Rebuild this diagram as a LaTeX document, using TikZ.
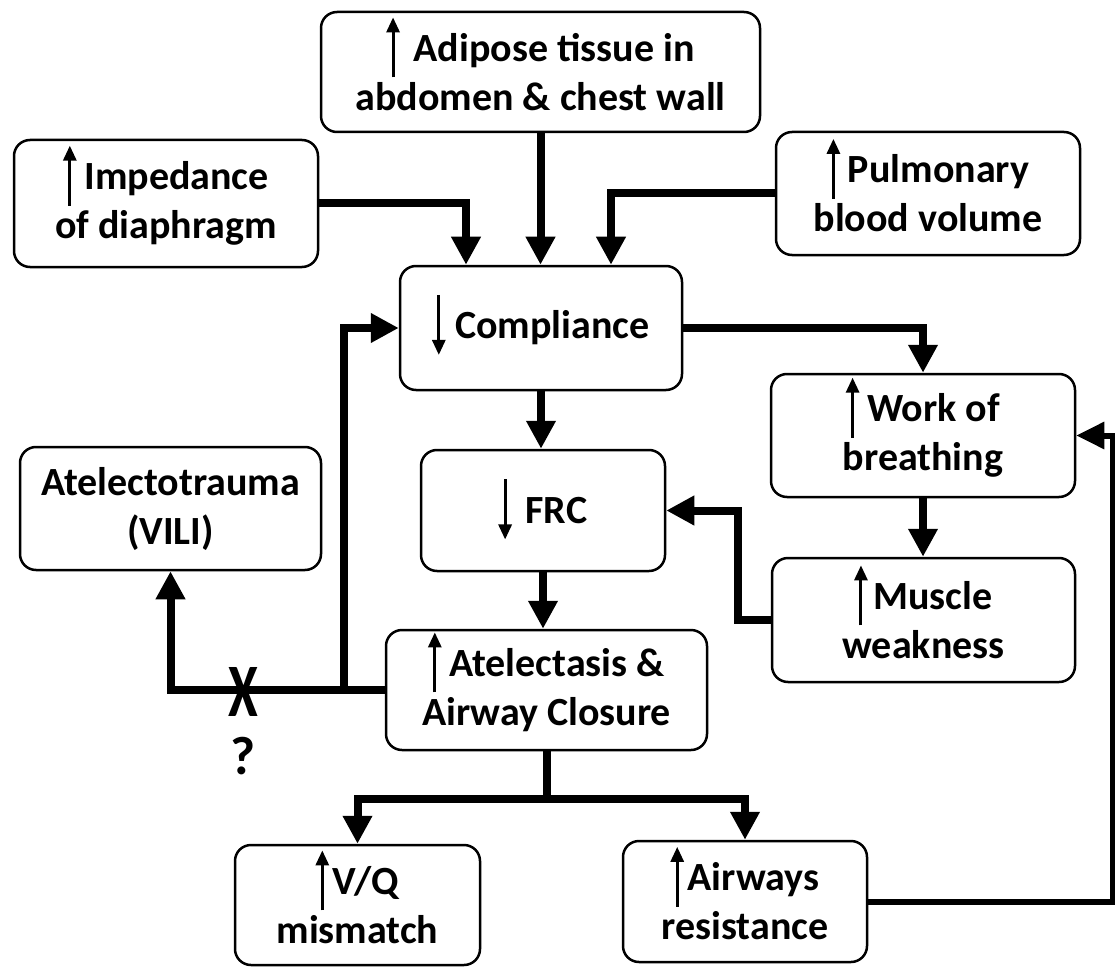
\documentclass[tikz,border=0pt]{standalone}
\usepackage{fontspec}
\setmainfont{Carlito}
\usetikzlibrary{arrows.meta,calc}
\newcommand{\uparr}{\smash{\tikz[baseline=0pt]\draw[line width=3pt,-{Triangle[length=15pt,width=13pt]}] (0pt,-16pt) -- (0pt,44pt);}}
\newcommand{\dnarr}{\smash{\tikz[baseline=0pt]\draw[line width=3pt,-{Triangle[length=15pt,width=13pt]}] (0pt,44pt) -- (0pt,-16pt);}}
\begin{document}
\begin{tikzpicture}[x=1pt,y=-1pt,
  box/.style={draw, line width=2.5pt, rounded corners=16pt, inner sep=0pt, align=center,
    font=\fontsize{40}{49}\selectfont\bfseries},
  conn/.style={line width=8pt, -{Triangle[length=28pt,width=28pt]}},
  thinconn/.style={line width=6pt, -{Triangle[length=28pt,width=26pt]}},
  bigmark/.style={font=\fontsize{54}{54}\selectfont\bfseries, inner sep=0pt}]
\useasboundingbox (0,0) rectangle (1115,968);

\node[box,minimum width=439pt,minimum height=120pt] (adi) at (540.5,72) {\uparr\hspace{14pt}Adipose tissue in\\abdomen \& chest wall};
\node[box,minimum width=304pt,minimum height=127pt] (imp) at (166,203.5) {\uparr\hspace{8pt}Impedance\\of diaphragm};
\node[box,minimum width=304pt,minimum height=123pt] (pul) at (928,193.5) {\uparr\hspace{8pt}Pulmonary\\blood volume};
\node[box,minimum width=282pt,minimum height=124pt] (comp) at (541,328) {\dnarr\hspace{10pt}Compliance};
\node[box,minimum width=304pt,minimum height=123pt] (wob) at (923,435.5) {\uparr\hspace{8pt}Work of\\breathing};
\node[box,minimum width=301pt,minimum height=123pt] (atr) at (170.5,508.5) {Atelectotrauma\\(VILI)};
\node[box,minimum width=244pt,minimum height=121pt] (frc) at (543,510.5) {\dnarr\hspace{14pt}FRC};
\node[box,minimum width=303pt,minimum height=124pt] (mus) at (923.5,620) {\uparr\hspace{6pt}Muscle\\weakness};
\node[box,minimum width=321pt,minimum height=120pt] (atl) at (546.5,690) {\uparr\hspace{8pt}Atelectasis \&\\Airway Closure};
\node[box,minimum width=245pt,minimum height=120pt] (vq) at (357.5,905) {\uparr\hspace{4pt}V/Q\\mismatch};
\node[box,minimum width=244pt,minimum height=121pt] (air) at (745,901.5) {\uparr\hspace{4pt}Airways\\resistance};

\draw[conn] (imp.east) -| ($(comp.north)+(-75,0)$);
\draw[conn] (adi.south) -- (adi.south |- comp.north);
\draw[conn] (pul.west) -| ($(comp.north)+(70,0)$);
\draw[conn] (comp.east) -| (wob.north);
\draw[conn] (comp.south) -- (comp.south |- frc.north);
\draw[conn] (wob.south) -- (wob.south |- mus.north);
\draw[conn] (mus.west) -- ++(-33,0) |- (frc.east);
\draw[conn] (frc.south) -- (frc.south |- atl.north);
\draw[conn] (atl.west) -| (atr.south);
\draw[conn] ($(atl.west)+(-41,0)$) |- (comp.west);
\draw[conn] (atl.south) -- ++(0,48) -| (vq.north);
\draw[conn] ($(atl.south)+(0,48)$) -| (air.north);
\draw[thinconn] (air.east) -| ($(wob.east)+(37,0)$) -- (wob.east);

\node[bigmark, yscale=1.4] (xm) at (243,692) {X};
\node[bigmark] (qm) at (243,756) {?};
\end{tikzpicture}
\end{document}
